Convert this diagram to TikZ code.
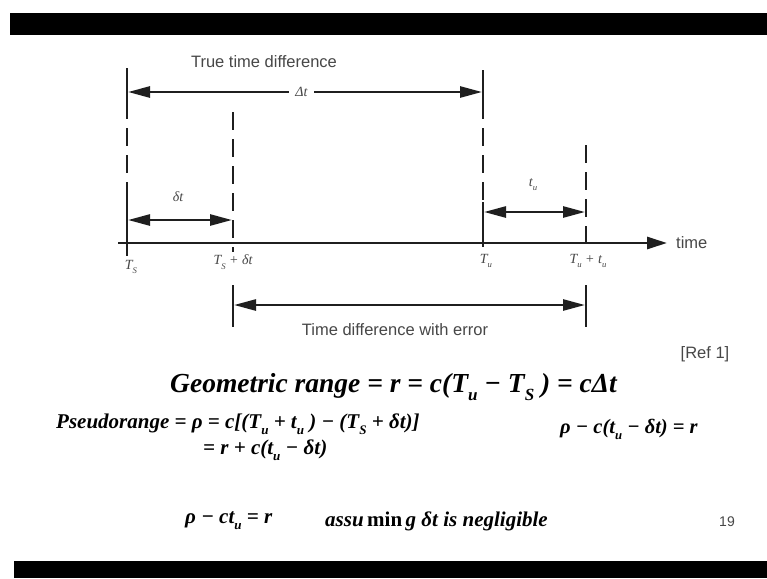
\documentclass[tikz,border=0pt]{standalone}
\usepackage{fontspec}
\setmainfont{Liberation Serif}
\setsansfont{Liberation Sans}
\usetikzlibrary{arrows.meta, positioning}

\newcommand{\dn}[1]{\raisebox{-0.3em}{\scalebox{0.62}{#1}}}

\begin{document}
\begin{tikzpicture}[
    x=1pt, y=-1pt,
    node distance=4pt and 4pt,
    caption/.style={
        font=\fontsize{16.5}{19}\sffamily,
        text=black!72,
        inner sep=1pt
    },
    tlabel/.style={
        font=\fontsize{14}{16}\selectfont\itshape,
        text=black!72,
        inner sep=1pt
    },
    eqn/.style={
        font=\fontsize{21}{24}\selectfont\bfseries\itshape,
        anchor=west,
        inner sep=0pt
    },
    span/.style={
        {Triangle[length=22pt,width=11pt]}-{Triangle[length=22pt,width=11pt]},
        line width=2.6pt,
        draw=black!88
    },
    guide/.style={
        line width=1.8pt,
        draw=black!88
    },
    dashguide/.style={
        guide,
        dash pattern=on 18pt off 9pt
    },
    axis/.style={
        -{Triangle[length=20pt,width=12pt]},
        line width=2.8pt,
        draw=black!88
    }
]
\useasboundingbox (0,0) rectangle (767,578);
\fill[white] (0,0) rectangle (767,578);
\fill[black] (10,13) rectangle (767,35);
\fill[black] (14,561) rectangle (767,578);

% Coordinates on the time axis
\coordinate (axisL) at (118,243);
\coordinate (axisR) at (667,243);
\coordinate (ts) at (127,243);
\coordinate (tsd) at (233,243);
\coordinate (tu) at (483,243);
\coordinate (tuu) at (586,243);

% Guide lines
\coordinate (tsTop) at (127,68);
\coordinate (tsMid) at (127,101);
\coordinate (tsLow) at (127,200);
\coordinate (tsEnd) at (127,256);
\draw[guide] (tsTop) -- (tsMid);
\draw[dashguide] (tsMid) -- (tsLow);
\draw[guide] (tsLow) -- (tsEnd);

\coordinate (tsdTop) at (233,112);
\coordinate (tsdEnd) at (233,252);
\draw[dashguide] (tsdTop) -- (tsdEnd);

\coordinate (tuTop) at (483,70);
\coordinate (tuMid) at (483,101);
\coordinate (tuLow) at (483,202);
\coordinate (tuEnd) at (483,247);
\draw[guide] (tuTop) -- (tuMid);
\draw[dashguide] (tuMid) -- (tuLow);
\draw[guide] (tuLow) -- (tuEnd);

\coordinate (tuuTop) at (586,145);
\coordinate (tuuEnd) at (586,247);
\draw[dashguide] (tuuTop) -- (tuuEnd);

\coordinate (errTopL) at (233,285);
\coordinate (errBotL) at (233,327);
\coordinate (errTopR) at (586,285);
\coordinate (errBotR) at (586,327);
\draw[guide] (errTopL) -- (errBotL);
\draw[guide] (errTopR) -- (errBotR);

% Time axis
\draw[axis] (axisL) -- (axisR);

% Spans
\coordinate (bigL) at (128,92);
\coordinate (bigR) at (482,92);
\coordinate (dL) at (128,220);
\coordinate (dR) at (232,220);
\coordinate (uL) at (484,212);
\coordinate (uR) at (585,212);
\coordinate (eL) at (234,305);
\coordinate (eR) at (585,305);
\draw[span] (bigL) -- node[tlabel, fill=white, inner xsep=6pt, pos=0.49] (bigdt) {Δt} (bigR);
\draw[span] (dL) -- (dR);
\draw[span] (uL) -- (uR);
\draw[span] (eL) -- (eR);

% Labels
\node[caption] (truecap) at (264,62) {True time difference};
\node[tlabel] (smalldt) at (178,197) {δt};
\node[tlabel] (smalltu) at (533,185) {t\dn{u}};
\node[tlabel, below=16pt of ts, xshift=4pt] (tslab) {T\dn{S}};
\node[tlabel, below=11pt of tsd] (tsdlab) {T\dn{S} + δt};
\node[tlabel, below=10pt of tu, xshift=3pt] (tulab) {T\dn{u}};
\node[tlabel, below=10pt of tuu, xshift=2pt] (tuulab) {T\dn{u} + t\dn{u}};
\node[caption, right=8pt of axisR] (timelab) {time};
\node[caption] (errcap) at (395,330) {Time difference with error};
\node[caption] (ref) at (705,354) {[Ref 1]};
\node[caption, font=\fontsize{14}{16}\sffamily] (page) at (727,522) {19};

% Equations
\node[eqn, font=\fontsize{27.5}{30}\selectfont\bfseries\itshape] (geo) at (170,387)
    {Geometric range = r = c(T\dn{u} − T\dn{S} ) = cΔt};
\node[eqn] (pseudo) at (56,424)
    {Pseudorange = ρ = c[(T\dn{u} + t\dn{u} ) − (T\dn{S} + δt)]};
\node[eqn] (pseudo2) at (203,450) {= r + c(t\dn{u} − δt)};
\node[eqn, font=\fontsize{20.5}{24}\selectfont\bfseries\itshape] (rho1) at (560,429) {ρ − c(t\dn{u} − δt) = r};
\node[eqn] (rho2) at (185,521) {ρ − ct\dn{u} = r};
\node[eqn] (assume) at (325,521) {assu\,\textup{min}\,g δt is negligible};

\end{tikzpicture}
\end{document}
